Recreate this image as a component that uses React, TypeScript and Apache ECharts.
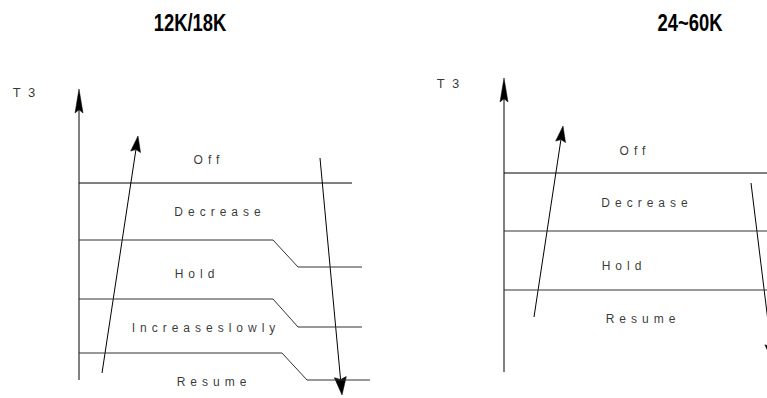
import React, { useEffect, useRef } from 'react';
import * as echarts from 'echarts';

// Panel titles
const panelTitles = ['12K/18K', '24~60K'];
const titleCenters = [190, 690];
const axisName = 'T 3';

// Left panel (12K/18K) — values in T3 / time units relative to the axis origin
const leftZones = ['Off', 'Decrease', 'Hold', 'Increaseslowly', 'Resume'];
const leftZonePos = [[130, 220], [141, 168], [118, 106], [127, 52], [135, -2]];
const leftBoundaries = [
  [[0, 197], [273, 197]],
  [[0, 140], [194, 140], [219, 113], [283, 113]],
  [[0, 81], [194, 81], [219, 53], [283, 53]],
  [[0, 27], [203, 27], [228, 0], [291, 0]],
];
// arrows: [x1, y1, x2 (tip), y2 (tip)]
const leftArrows = [
  [0, 0, 0, 291],     // T3 axis
  [23, 7, 59, 244],   // rising T3
  [241, 222, 263, -15], // falling T3
];
const leftT3 = [-54, 288];

// Right panel (24~60K)
const rightZones = ['Off', 'Decrease', 'Hold', 'Resume'];
const rightZonePos = [[131, 221], [143, 169], [120, 106], [139, 53]];
const rightBoundaries = [
  [[0, 199], [280, 199]],
  [[0, 141], [280, 141]],
  [[0, 82], [280, 82]],
];
const rightArrows = [
  [0, 0, 0, 294],
  [30, 55, 59, 246],
  [247, 189, 269, 10],
];
const rightT3 = [-55, 289];

const arrowKinds = ['axis', 'rise', 'fall'];

const FONT = "'Liberation Sans', Arial, sans-serif";

export default function App() {
  const ref = useRef<HTMLDivElement>(null);
  useEffect(() => {
    document.body.style.margin = '0';
    const el = ref.current!;
    const chart = echarts.init(el, null, { renderer: 'svg' });

    const headSize: Record<string, number[]> = { axis: [8, 24], rise: [10, 16], fall: [12, 18] };

    // grids sized so that 1 data unit == 1 px, kept inside the canvas
    const panels = [
      {
        grid: { left: 0, top: 60, width: 379, height: 338 },
        xr: [-79, 300], yr: [-18, 320],
        zones: leftZones, zonePos: leftZonePos, boundaries: leftBoundaries,
        arrows: leftArrows, t3: leftT3,
      },
      {
        grid: { left: 425, top: 52, width: 342, height: 346 },
        xr: [-79, 263], yr: [-26, 320],
        zones: rightZones, zonePos: rightZonePos, boundaries: rightBoundaries,
        arrows: rightArrows, t3: rightT3,
      },
    ];

    const grids: any[] = [];
    const xAxes: any[] = [];
    const yAxes: any[] = [];
    const series: any[] = [];

    const labelBase = { show: true, position: 'inside', formatter: '{b}', color: '#000', fontFamily: FONT };

    const renderArrow = (params: any, api: any) => {
      const a = api.coord([api.value(0), api.value(1)]);
      const b = api.coord([api.value(2), api.value(3)]);
      const [w, h] = headSize[arrowKinds[params.dataIndex]];
      const dx = b[0] - a[0];
      const dy = b[1] - a[1];
      const L = Math.hypot(dx, dy);
      const ux = dx / L;
      const uy = dy / L;
      const px = -uy;
      const py = ux;
      const base = [b[0] - ux * h, b[1] - uy * h];
      const notch = [b[0] - ux * h * 0.86, b[1] - uy * h * 0.86];
      return {
        type: 'group',
        children: [
          {
            type: 'line',
            shape: { x1: a[0], y1: a[1], x2: notch[0], y2: notch[1] },
            style: { stroke: '#000', lineWidth: 1 },
          },
          {
            type: 'polygon',
            shape: {
              points: [
                b,
                [base[0] + (px * w) / 2, base[1] + (py * w) / 2],
                notch,
                [base[0] - (px * w) / 2, base[1] - (py * w) / 2],
              ],
            },
            style: { fill: '#000', stroke: '#000', lineWidth: 0.5 },
          },
        ],
      };
    };

    panels.forEach((p, i) => {
      grids.push({ ...p.grid, containLabel: false, outerBoundsMode: 'none' });
      xAxes.push({ type: 'value', gridIndex: i, min: p.xr[0], max: p.xr[1], show: false });
      yAxes.push({ type: 'value', gridIndex: i, min: p.yr[0], max: p.yr[1], show: false });
      p.boundaries.forEach((b, k) => {
        series.push({
          type: 'line', xAxisIndex: i, yAxisIndex: i, data: b, symbol: 'none',
          silent: true, clip: false,
          lineStyle: { color: k === 0 ? '#000' : '#333', width: 1 },
        });
      });
      series.push({
        type: 'custom', xAxisIndex: i, yAxisIndex: i, silent: true, clip: false,
        data: p.arrows,
        renderItem: renderArrow,
      });
      series.push({
        type: 'scatter', xAxisIndex: i, yAxisIndex: i, silent: true, clip: false,
        symbolSize: 1, itemStyle: { color: 'rgba(0,0,0,0)' },
        data: p.zones.map((z, k) => ({ name: z, value: p.zonePos[k] })),
        label: { ...labelBase, fontSize: 12 },
        labelLayout: { hideOverlap: false },
      });
      series.push({
        type: 'scatter', xAxisIndex: i, yAxisIndex: i, silent: true, clip: false,
        symbolSize: 1, itemStyle: { color: 'rgba(0,0,0,0)' },
        data: [{ name: axisName, value: p.t3 }],
        label: { ...labelBase, fontSize: 13 },
      });
    });

    chart.setOption({
      animation: false,
      backgroundColor: '#fff',
      grid: grids,
      xAxis: xAxes,
      yAxis: yAxes,
      series,
      graphic: panelTitles.map((t, i) => ({
        type: 'text',
        x: titleCenters[i],
        y: 23,
        scaleX: 0.8,
        silent: true,
        style: {
          text: t,
          textAlign: 'center',
          textVerticalAlign: 'middle',
          fontSize: 23,
          fontWeight: 'bold',
          fontFamily: FONT,
          fill: '#000',
        },
      })),
    });

    const zoneSet = new Set([...leftZones, ...rightZones]);
    const applySpacing = () => {
      el.querySelectorAll('text').forEach((t) => {
        const s = t.textContent || '';
        if (zoneSet.has(s)) (t as any).style.letterSpacing = '5px';
        else if (s === axisName) (t as any).style.letterSpacing = '2px';
      });
    };
    applySpacing();
    chart.on('finished', applySpacing);
    const timer = setTimeout(applySpacing, 50);

    return () => {
      clearTimeout(timer);
      chart.dispose();
    };
  }, []);
  return <div ref={ref} style={{ width: 767, height: 398 }} />;
}
